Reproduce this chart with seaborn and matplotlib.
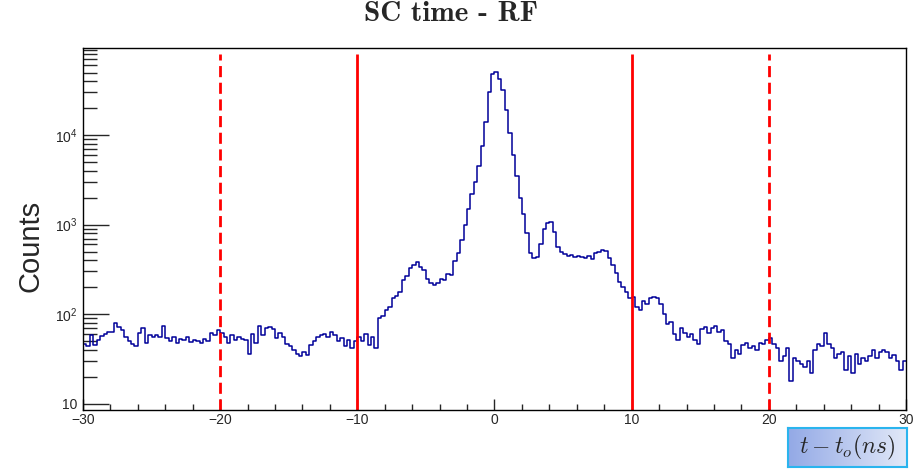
import numpy as np
import pandas as pd
import matplotlib
matplotlib.use("Agg")
import matplotlib.pyplot as plt
import seaborn as sns
from matplotlib.colors import LinearSegmentedColormap

# bin counts, 0.25 ns bins
bg_left = [  # -30 .. -10
    46, 44, 58, 45, 52, 57, 60, 63, 64, 80, 72, 66, 56, 50, 47, 44, 62, 70, 48, 58,
    56, 58, 55, 74, 54, 50, 55, 48, 53, 52, 56, 49, 51, 50, 48, 53, 50, 61, 58, 66,
    62, 55, 48, 58, 52, 55, 53, 51, 36, 60, 48, 74, 58, 70, 72, 68, 54, 62, 56, 46,
    44, 40, 36, 34, 38, 35, 45, 50, 56, 58, 60, 55, 64, 58, 50, 54, 44, 52, 42, 50,
]
peak_region = [  # -10 .. 10
    56, 50, 60, 45, 55, 42, 90, 95, 112, 120, 150, 160, 178, 240, 265, 330, 350, 385, 340, 310,
    250, 225, 212, 225, 245, 240, 280, 275, 390, 480, 680, 1000, 1500, 2200, 3000, 4500, 7500, 14000, 30000, 48000,
    51000, 42000, 32000, 19000, 10500, 6000, 3500, 2000, 1300, 800, 480, 425, 440, 600, 900, 1050, 1080, 820, 560, 490,
    470, 450, 460, 440, 450, 430, 420, 445, 410, 480, 500, 520, 510, 420, 350, 290, 230, 200, 175, 150,
]
bg_right = [  # 10 .. 30
    155, 120, 110, 140, 130, 152, 155, 150, 130, 100, 78, 82, 60, 52, 70, 62, 55, 60, 52, 46,
    68, 72, 62, 70, 74, 64, 66, 50, 46, 32, 40, 36, 45, 48, 42, 44, 40, 48, 46, 52,
    54, 46, 42, 30, 34, 42, 18, 32, 30, 28, 26, 30, 22, 40, 46, 44, 62, 46, 42, 32,
    36, 38, 24, 34, 22, 36, 28, 32, 30, 34, 40, 32, 38, 40, 38, 32, 35, 30, 24, 30,
]
cut_solid = [-10, 10]
cut_dashed = [-20, 20]

counts = np.array(bg_left + peak_region + bg_right, dtype=float)
bw = 60 / len(counts)
df = pd.DataFrame({"t": -30 + bw * (np.arange(len(counts)) + 0.5), "n": counts})

sns.set_style("white")
plt.rcParams["font.family"] = ["Liberation Sans", "DejaVu Sans"]
plt.rcParams["mathtext.fontset"] = "custom"
plt.rcParams["mathtext.rm"] = "Liberation Sans"
plt.rcParams["mathtext.it"] = "Liberation Sans:italic"

fig = plt.figure(figsize=(9.15, 4.7), dpi=100)
ax = fig.add_axes([83 / 915, 1 - 410 / 470, 823 / 915, 362 / 470])

sns.histplot(data=df, x="t", weights="n", binwidth=bw, binrange=(-30, 30), element="step",
             fill=False, color="#000099", linewidth=1.1, ax=ax)
ax.set_yscale("log")
ax.set_xlim(-30, 30)
ax.set_ylim(8.5, 9.4e4)

for x in cut_dashed:
    ax.vlines(x, 8.5, 8e4, colors="red", linestyles=(0, (4, 2)), linewidth=2)
for x in cut_solid:
    ax.vlines(x, 8.5, 8e4, colors="red", linestyles="-", linewidth=2)

ax.set_xticks([-30, -20, -10, 0, 10, 20, 30])
ax.set_xticklabels(["\u221230", "\u221220", "\u221210", "0", "10", "20", "30"])
ax.set_xticks(np.arange(-28, 30, 2), minor=True)
ax.set_yticks([10, 100, 1000, 10000])
ax.set_yticklabels(["10", r"$10^{2}$", r"$10^{3}$", r"$10^{4}$"])
ax.set_yticks([m * 10 ** e for e in range(1, 5) for m in range(2, 10)], minor=True)
ax.yaxis.set_minor_formatter(matplotlib.ticker.NullFormatter())

ax.tick_params(axis="x", which="major", direction="in", length=8, width=1, labelsize=10, pad=2,
               bottom=True, top=False)
ax.tick_params(axis="x", which="minor", direction="in", length=4, width=1, bottom=True, top=False)
ax.tick_params(axis="y", which="major", direction="in", length=19, width=1, labelsize=10, pad=4,
               left=True, right=False)
ax.tick_params(axis="y", which="minor", direction="in", length=10, width=1, left=True, right=False)
for s in ax.spines.values():
    s.set_color("black")
    s.set_linewidth(1)
ax.set_xlabel("")
ax.set_ylabel("")

fig.text(451 / 915, 1 - 14 / 470, "SC time - RF", ha="center", va="center",
         family=["cmb10", "DejaVu Serif"], fontsize=21)
fig.text(30 / 915, 1 - 246 / 470, "Counts", rotation=90, ha="center", va="center", fontsize=21)

# axis title box
bax = fig.add_axes([788 / 915, 1 - 467 / 470, 119 / 915, 39 / 470])
grad = LinearSegmentedColormap.from_list("g", ["#93a9e6", "#e2e9f8"])
bax.imshow(np.linspace(0, 1, 256).reshape(1, -1), cmap=grad, aspect="auto", extent=[0, 1, 0, 1])
bax.set_xticks([])
bax.set_yticks([])
for s in bax.spines.values():
    s.set_color("#2ab4ee")
    s.set_linewidth(1.5)
bax.text(0.5, 0.5, r"$t - t_o(ns)$", ha="center", va="center", fontsize=17,
         math_fontfamily="cm", transform=bax.transAxes)

fig.savefig("out.png", dpi=100)
